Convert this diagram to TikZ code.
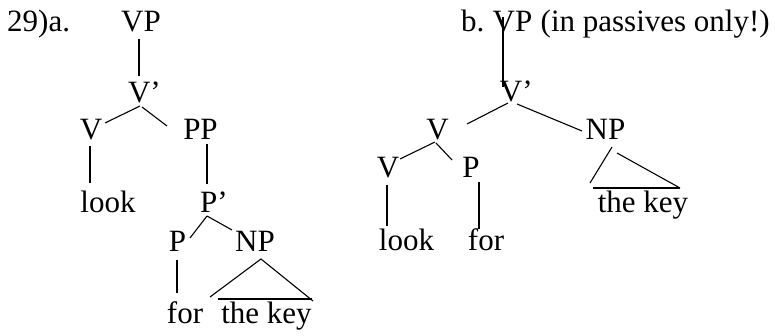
\documentclass[tikz,border=0pt]{standalone}
\usepackage{fontspec}
\setmainfont{Liberation Serif}
\begin{document}
\begin{tikzpicture}[x = 1pt, y = -1pt,
        word/.style = {anchor = base, inner sep = 0pt, font = \fontsize{31}{37}\selectfont},
        branch/.style = {line width = 1.1pt}]
        \useasboundingbox (0, 0) rectangle (775, 336);
        % tree a
        \node[word, anchor = base west] (labela) at (7, 32) {29)a.};
        \node[word] (vpa) at (141, 32) {VP};
        \node[word] (vba) at (144.4, 103) {V’};
        \node[word] (va) at (91, 140) {V};
        \node[word] (ppa) at (200.5, 140) {PP};
        \node[word] (looka) at (108, 213) {look};
        \node[word] (pba) at (213.8, 213) {P’};
        \node[word] (pa) at (177.5, 252) {P};
        \node[word] (npa) at (255, 252) {NP};
        \node[word] (fora) at (185, 323) {for};
        \node[word] (keya) at (266.5, 323) {the key};
        \draw[branch] ([shift = {(-2, 7)}]vpa.base) -- ([shift = {(-5.4, -27)}]vba.base);
        \draw[branch] ([shift = {(-4.4, 3)}]vba.base) -- ([shift = {(14, -17)}]va.base);
        \draw[branch] ([shift = {(-2.4, 4)}]vba.base) -- ([shift = {(-33.5, -14)}]ppa.base);
        \draw[branch] ([shift = {(-1, 6)}]va.base) -- ([shift = {(-18, -30)}]looka.base);
        \draw[branch] ([shift = {(6.5, 4)}]ppa.base) -- ([shift = {(-6.8, -29)}]pba.base);
        \draw[branch] ([shift = {(-6.8, 3)}]pba.base) -- ([shift = {(12.5, -14)}]pa.base);
        \draw[branch] ([shift = {(-6.8, 3)}]pba.base) -- ([shift = {(-23, -22)}]npa.base);
        \draw[branch] ([shift = {(-0.5, 8)}]pa.base) -- ([shift = {(-8, -30)}]fora.base);
        \draw[branch] ([shift = {(-56.5, -26)}]keya.base) -- ([shift = {(6, 7)}]npa.base)
            -- ([shift = {(46.5, -22)}]keya.base);
        \draw[branch] ([shift = {(-48.5, -24)}]keya.base) -- ([shift = {(45.5, -24)}]keya.base);
        % tree b
        \node[word] (vpb) at (512.5, 32) {VP};
        \node[word, anchor = base east] (labelb) at ([xshift = -8pt]vpb.base west) {b.};
        \node[word, anchor = base west] (noteb) at ([xshift = 8pt]vpb.base east) {(in passives only!)};
        \node[word] (vbb) at (516.3, 102) {V’};
        \node[word] (vmb) at (437.5, 140) {V};
        \node[word] (npb) at (605.5, 140) {NP};
        \node[word] (vlb) at (388, 178) {V};
        \node[word] (pb) at (471, 178) {P};
        \node[word] (lookb) at (406.5, 251) {look};
        \node[word] (forb) at (486, 251) {for};
        \node[word] (keyb) at (643, 213) {the key};
        \draw[branch] ([shift = {(-9.5, -15)}]vpb.base) -- ([shift = {(-13.3, -15)}]vbb.base);
        \draw[branch] ([shift = {(-8.3, 1)}]vbb.base) -- ([shift = {(29.5, -16)}]vmb.base);
        \draw[branch] ([shift = {(0.7, 2)}]vbb.base) -- ([shift = {(-23.5, -9)}]npb.base);
        \draw[branch] ([shift = {(-2.5, 2)}]vmb.base) -- ([shift = {(12, -19)}]vlb.base);
        \draw[branch] ([shift = {(-1.5, 3)}]vmb.base) -- ([shift = {(-19, -18)}]pb.base);
        \draw[branch] ([shift = {(-1, 7)}]vlb.base) -- ([shift = {(-19.5, -25)}]lookb.base);
        \draw[branch] ([shift = {(8, 4)}]pb.base) -- ([shift = {(-7, -22)}]forb.base);
        \draw[branch] ([shift = {(6.5, 7)}]npb.base) -- ([shift = {(-53, -30)}]keyb.base);
        \draw[branch] ([shift = {(11.5, 13)}]npb.base) -- ([shift = {(37, -25)}]keyb.base);
        \draw[branch] ([shift = {(-50, -25)}]keyb.base) -- ([shift = {(37, -25)}]keyb.base);
    \end{tikzpicture}
\end{document}
